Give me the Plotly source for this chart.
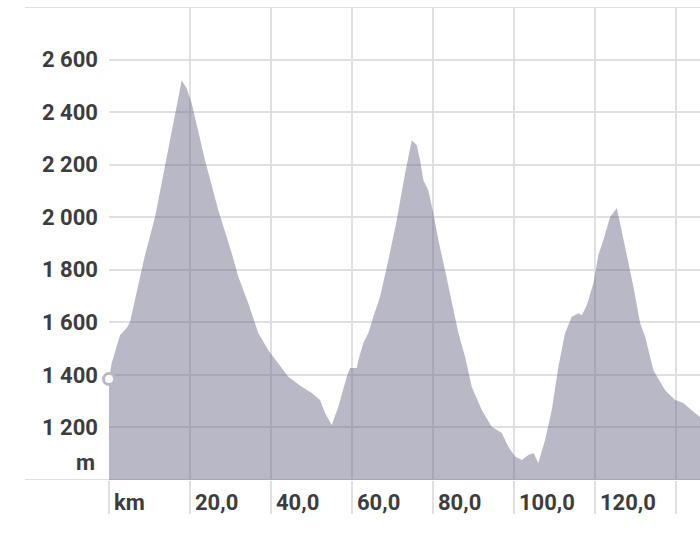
import plotly.graph_objects as go

# Elevation profile (km, m)
distance_km = [0.0, 0.67, 2.72, 4.37, 5.19, 6.42, 8.07, 8.89, 11.36, 13.83, 16.30, 17.95, 19.18,
               20.42, 23.70, 26.99, 30.30, 31.93, 34.39, 36.86, 39.33, 41.80, 44.27, 47.58, 50.05,
               52.10, 53.33, 54.99, 56.62, 58.69, 59.51, 61.16, 61.55, 62.79, 64.02, 65.26, 66.91,
               68.96, 71.04, 73.09, 74.74, 75.98, 76.79, 77.60, 78.84, 80.07, 81.31, 82.96, 84.62,
               86.25, 87.90, 89.55, 92.02, 94.49, 96.96, 98.59, 100.25, 101.90, 103.53, 104.77,
               106.00, 107.65, 109.31, 110.94, 112.59, 114.25, 115.88, 116.72, 117.95, 119.58,
               120.81, 122.05, 123.70, 125.36, 126.17, 127.41, 129.46, 131.11, 132.35, 134.40,
               137.28, 139.75, 141.80, 144.27, 145.93, 147.50]
elevation_m = [1384, 1445, 1551, 1578, 1601, 1684, 1798, 1856, 2001, 2191, 2395, 2521, 2490,
               2433, 2217, 2027, 1863, 1773, 1673, 1559, 1494, 1445, 1393, 1355, 1331,
               1304, 1255, 1209, 1279, 1393, 1426, 1426, 1456, 1521, 1559, 1621, 1697,
               1836, 1989, 2167, 2293, 2274, 2217, 2141, 2103, 2015, 1913, 1798, 1673,
               1559, 1469, 1355, 1266, 1203, 1179, 1127, 1089, 1076, 1095, 1103,
               1065, 1152, 1266, 1431, 1559, 1621, 1635, 1627, 1665, 1749,
               1856, 1913, 2001, 2034, 1977, 1887, 1735, 1597, 1545, 1418,
               1342, 1304, 1293, 1260, 1241, 1220]

x_tick_vals = [0, 20, 40, 60, 80, 100, 120, 140]
x_tick_text = ["km", "20,0", "40,0", "60,0", "80,0", "100,0", "120,0", ""]
y_tick_vals = [1200, 1400, 1600, 1800, 2000, 2200, 2400, 2600]
y_tick_text = ["1 200", "1 400", "1 600", "1 800", "2 000", "2 200", "2 400", "2 600"]
y_unit = "m"

X_RANGE = [0, 145.9]
Y_RANGE = [1000, 2800]
GRID = "#e0e0e3"
TXT = "#3d3d40"
FONT = "Roboto"
FSIZE = 22

fig = go.Figure()
fig.add_trace(go.Scatter(
    x=distance_km, y=elevation_m, mode="lines", fill="tozeroy",
    line=dict(width=0, color="rgba(95,93,125,0.44)"),
    fillcolor="rgba(95,93,125,0.44)", hoverinfo="skip", showlegend=False))
fig.add_trace(go.Scatter(
    x=[distance_km[0]], y=[elevation_m[0]], mode="markers",
    marker=dict(size=11, color="white", line=dict(width=3, color="#b9b9c2")),
    cliponaxis=False, showlegend=False, hoverinfo="skip"))

left_px = 109
plot_w = 700 - left_px
ext = (left_px - 25) / plot_w
for yv in Y_RANGE:
    fig.add_shape(type="line", xref="paper", yref="y", x0=-ext, x1=1, y0=yv, y1=yv,
                  line=dict(color=GRID, width=2), layer="below")

annotations = []
for xv, txt in zip(x_tick_vals, x_tick_text):
    if txt:
        annotations.append(dict(x=xv, y=0, xref="x", yref="paper", text=txt, showarrow=False,
                                xanchor="left", yanchor="middle", xshift=3, yshift=-22,
                                font=dict(family=FONT, size=FSIZE, color=TXT, weight="bold")))
annotations.append(dict(x=0, y=Y_RANGE[0], xref="paper", yref="y", text=y_unit, showarrow=False,
                        xanchor="right", yanchor="middle", xshift=-12, yshift=18,
                        font=dict(family=FONT, size=FSIZE, color=TXT, weight="bold")))

fig.update_layout(
    width=700, height=550,
    margin=dict(l=left_px, r=0, t=7, b=70),
    paper_bgcolor="white", plot_bgcolor="white",
    separators=", ",
    annotations=annotations,
    xaxis=dict(range=X_RANGE, tickvals=x_tick_vals, showticklabels=False,
               showgrid=True, gridcolor=GRID, gridwidth=2, zeroline=False, showline=False,
               ticks="outside", ticklen=33, tickwidth=2, tickcolor=GRID),
    yaxis=dict(range=Y_RANGE, tickvals=y_tick_vals, ticktext=y_tick_text,
               showgrid=True, gridcolor=GRID, gridwidth=2, zeroline=False, showline=False,
               ticks="", ticklabelstandoff=10,
               tickfont=dict(family=FONT, size=FSIZE, color=TXT, weight="bold")),
)

fig.write_html("out.html", config={"displayModeBar": False},
               post_script="document.body.style.margin='0';document.body.style.overflow='hidden';")
